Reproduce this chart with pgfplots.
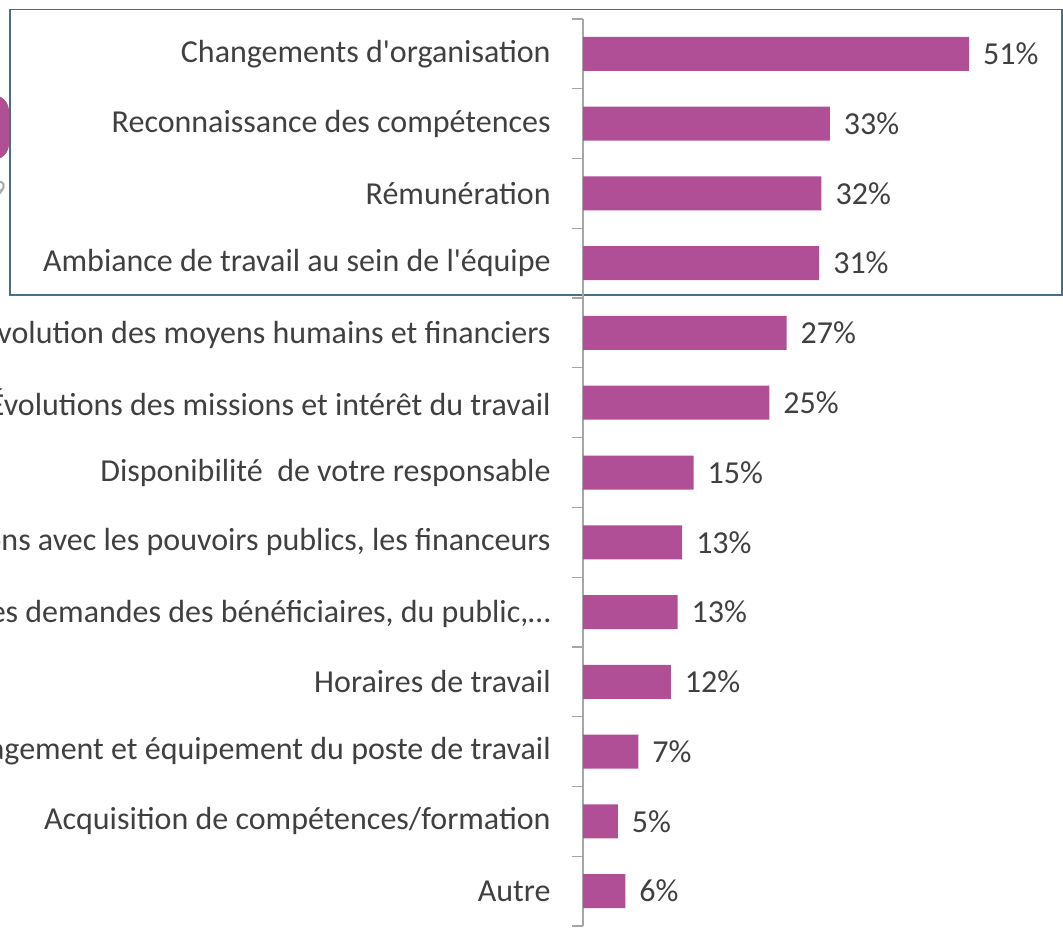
\documentclass[border=0pt]{standalone}
\usepackage{pgfplots}
\pgfplotsset{compat=1.18}
\usepackage{fontspec}
\setmainfont{Carlito}
\definecolor{barc}{RGB}{176,79,149}
\definecolor{txt}{RGB}{64,64,64}
\definecolor{axc}{RGB}{166,166,166}
\definecolor{boxc}{RGB}{74,111,130}
\begin{document}
\begin{tikzpicture}[x=1pt,y=1pt]
\useasboundingbox (0,0) rectangle (531.5,465);
\fill[barc, rounded corners=8pt] (-20,385) rectangle (4.5,417.5);
\node[text=gray!70, font=\fontsize{14}{14}\selectfont\itshape, anchor=east, inner sep=0pt] at (2.5,370) {9};
\draw[boxc, line width=0.6pt] (5,317.5) rectangle (531,460.2);
\begin{axis}[
  at={(291.5pt,2pt)}, anchor=south west,
  scale only axis, width=240pt, height=453.5pt,
  xmin=0, xmax=63.4, ymin=-0.5, ymax=12.5, y dir=reverse,
  axis x line=none, axis y line*=left,
  y axis line style={draw=axc, line width=0.6pt},
  ytick={0,...,12},
  yticklabels={Changements d\textquotesingle organisation,Reconnaissance des compétences,Rémunération,Ambiance de travail au sein de l\textquotesingle équipe,Évolution des moyens humains et financiers,Évolutions des missions et intérêt du travail,Disponibilité\ \ de votre responsable,Relations avec les pouvoirs publics{,} les financeurs,Évolution des demandes des bénéficiaires{,} du public{,}…,Horaires de travail,Aménagement et équipement du poste de travail,Acquisition de compétences/formation,Autre},
  major tick length=0pt,
  yticklabel style={font=\fontsize{16}{18}\selectfont, text=txt, inner sep=0pt, xshift=-16pt},
  extra y ticks={-0.5,0.5,...,12.5},
  extra y tick labels={},
  extra y tick style={major tick length=5.5pt, tick align=outside, tick style={draw=axc, line width=0.6pt}},
  xbar, bar width=17pt,
  point meta=explicit,
  nodes near coords={\pgfmathprintnumber[fixed,precision=0,assume math mode=true]{\pgfplotspointmeta}\%},
  nodes near coords style={font=\fontsize{16}{18}\selectfont, text=txt, anchor=west, xshift=3.5pt},
]
\addplot[fill=barc, draw=none] table[x=x, y=y, meta=lab] {
x y lab
51.0 0 51
32.6 1 33
31.5 2 32
31.2 3 31
26.9 4 27
24.6 5 25
14.6 6 15
13.1 7 13
12.5 8 13
11.6 9 12
7.3 10 7
4.6 11 5
5.6 12 6
};
\end{axis}
\end{tikzpicture}
\end{document}
